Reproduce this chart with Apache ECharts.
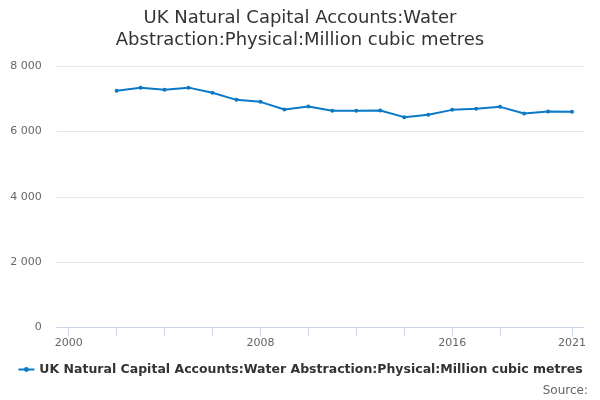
<!DOCTYPE html>
<html>
<head>
<meta charset="utf-8">
<script src="https://cdn.jsdelivr.net/npm/echarts@6/dist/echarts.min.js"></script>
<style>html,body{margin:0;padding:0;background:#fff}#c{width:600px;height:400px}</style>
</head>
<body>
<div id="c"></div>
<script>
var years = [2002,2003,2004,2005,2006,2007,2008,2009,2010,2011,2012,2013,2014,2015,2016,2017,2018,2019,2020,2021];
var values = [7248,7346,7279,7346,7187,6972,6911,6675,6767,6635,6635,6645,6442,6512,6665,6696,6757,6552,6613,6604];
var xTicks = [2000,2002,2004,2006,2008,2010,2012,2014,2016,2018,2021];
var xLabels = [2000,2008,2016,2021];
var seriesName = 'UK Natural Capital Accounts:Water Abstraction:Physical:Million cubic metres';
var titleText = 'UK Natural Capital Accounts:Water\nAbstraction:Physical:Million cubic metres';

var chart = echarts.init(document.getElementById('c'));
var font = 'DejaVu Sans, sans-serif';
chart.setOption({
  animation: false,
  textStyle: {fontFamily: font},
  title: {
    text: titleText, left: 'center', top: 2,
    textStyle: {fontFamily: font, fontSize: 18, fontWeight: 'normal', color: '#333', lineHeight: 22}
  },
  legend: {
    bottom: 19, left: 'center',
    itemWidth: 16, itemHeight: 6, itemGap: 10,
    textStyle: {fontFamily: font, fontSize: 12.5, fontWeight: 'bold', color: '#333'}
  },
  graphic: [{
    type: 'text', right: 12, bottom: 3,
    style: {text: 'Source:', fill: '#666', fontSize: 12, fontFamily: font}
  }],
  grid: {left: 56.7, right: 16, top: 66.3, bottom: 72.7, containLabel: false},
  xAxis: {
    type: 'value', min: 1999.5, max: 2021.5,
    axisLine: {show: true, lineStyle: {color: '#ccd6eb'}},
    axisTick: {show: true, length: 9, lineStyle: {color: '#ccd6eb'}, customValues: xTicks},
    axisLabel: {color: '#666', fontSize: 11, margin: 10, customValues: xLabels, formatter: function(v){return String(v);}},
    splitLine: {show: false}
  },
  yAxis: {
    type: 'value', min: 0, max: 8000, interval: 2000,
    axisLine: {show: false}, axisTick: {show: false},
    axisLabel: {color: '#666', fontSize: 11, margin: 15, formatter: function(v){return String(v).replace(/\B(?=(\d{3})+(?!\d))/g, ' ');}},
    splitLine: {lineStyle: {color: '#e6e6e6'}}
  },
  series: [{
    name: seriesName, type: 'line',
    data: years.map(function(y, i){ return [y, values[i]]; }),
    symbol: 'circle', symbolSize: 4, showSymbol: true,
    lineStyle: {color: '#0a7ac6', width: 2},
    itemStyle: {color: '#0a7ac6'}
  }]
});
</script>
</body>
</html>
